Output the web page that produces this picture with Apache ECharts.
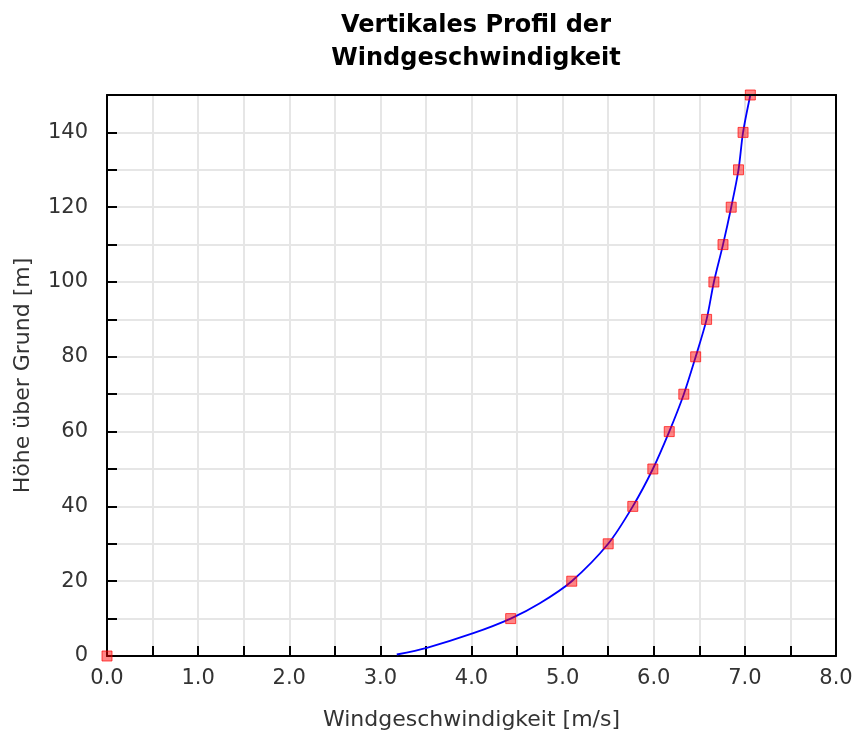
<!DOCTYPE html>
<html>
<head>
<meta charset="utf-8">
<script src="https://cdn.jsdelivr.net/npm/echarts@6/dist/echarts.min.js"></script>
<style>
  html, body { margin: 0; padding: 0; background: #fff; }
  #main { width: 856px; height: 740px; }
</style>
</head>
<body>
<div id="main"></div>
<script>
// Messpunkte (Höhe in m, Geschwindigkeit in m/s)
var heights = [0, 10, 20, 30, 40, 50, 60, 70, 80, 90, 100, 110, 120, 130, 140, 150]
var speeds = [0.0, 4.43, 5.10, 5.50, 5.77, 5.99, 6.17, 6.33, 6.46, 6.58, 6.66, 6.76, 6.85, 6.93, 6.98, 7.06]

// Profilkurve
var curveHeights = [0.4, 2.2, 6.1, 10, 14.1, 20, 30, 40, 50, 60, 70, 80, 90, 100, 110, 120, 130, 140, 150]
var curveSpeeds = [3.18, 3.51, 4.02, 4.43, 4.75, 5.10, 5.50, 5.77, 5.99, 6.17, 6.33, 6.46, 6.58, 6.66, 6.76, 6.85, 6.93, 6.98, 7.06]

var xTicks = { min: 0, max: 8, step: 0.5 }
var yTicks = { min: 0, max: 150, step: 10 }

var font = 'DejaVu Sans, Verdana, sans-serif'

var myChart = echarts.init(document.getElementById('main'))

var curveData = curveSpeeds.map(function (v, i) {
  return [v, curveHeights[i]]
})
var pointData = speeds.map(function (v, i) {
  return [v, heights[i]]
})

// Rahmen oben / rechts
var frameAxis = {
  show: true,
  z: 5,
  axisLine: { show: true, onZero: false, lineStyle: { color: '#000', width: 2 } },
  axisTick: { show: false },
  axisLabel: { show: false },
  splitLine: { show: false },
}

var option = {
  animation: false,
  backgroundColor: '#fff',
  title: {
    text: 'Vertikales Profil der\nWindgeschwindigkeit',
    left: 471,
    top: 4,
    textAlign: 'center',
    textStyle: {
      fontFamily: font,
      fontSize: 24,
      fontWeight: 'bold',
      color: '#000',
      lineHeight: 33,
    },
  },
  grid: {
    left: 107,
    right: 20,
    top: 95,
    bottom: 84,
  },
  xAxis: [
    {
      type: 'value',
      min: xTicks.min,
      max: xTicks.max,
      interval: xTicks.step,
      name: 'Windgeschwindigkeit [m/s]',
      nameLocation: 'middle',
      nameGap: 53,
      nameTextStyle: { fontFamily: font, fontSize: 22, color: '#333' },
      axisLine: { show: true, lineStyle: { color: '#000', width: 2 } },
      axisTick: { show: true, inside: true, length: 10, lineStyle: { color: '#000', width: 2 } },
      axisLabel: {
        margin: 12,
        fontFamily: font,
        fontSize: 21,
        color: '#333',
        formatter: function (v) {
          return Math.abs(v - Math.round(v)) < 1e-6 ? v.toFixed(1) : ''
        },
      },
      splitLine: { show: true, lineStyle: { color: '#e6e6e6', width: 2 } },
    },
    Object.assign({ type: 'value', position: 'top', min: xTicks.min, max: xTicks.max }, frameAxis),
  ],
  yAxis: [
    {
      type: 'value',
      min: yTicks.min,
      max: yTicks.max,
      interval: yTicks.step,
      name: 'Höhe über Grund [m]',
      nameLocation: 'middle',
      nameGap: 73,
      nameTextStyle: { fontFamily: font, fontSize: 22, color: '#333' },
      axisLine: { show: true, lineStyle: { color: '#000', width: 2 } },
      axisTick: { show: true, inside: true, length: 10, lineStyle: { color: '#000', width: 2 } },
      axisLabel: {
        margin: 19,
        fontFamily: font,
        fontSize: 21,
        color: '#333',
        formatter: function (v) {
          return v % 20 === 0 ? String(v) : ''
        },
      },
      splitLine: { show: true, lineStyle: { color: '#e6e6e6', width: 2 } },
    },
    Object.assign({ type: 'value', position: 'right', min: yTicks.min, max: yTicks.max }, frameAxis),
  ],
  series: [
    {
      name: 'Profil',
      type: 'line',
      data: curveData,
      smooth: 0.3,
      showSymbol: false,
      symbol: 'none',
      lineStyle: { color: '#0000ff', width: 1.8 },
      z: 2,
    },
    {
      name: 'Messwerte',
      type: 'scatter',
      data: pointData,
      symbol: 'rect',
      symbolSize: 10,
      itemStyle: {
        color: 'rgba(255,0,0,0.6)',
        borderColor: 'rgba(255,0,0,0.85)',
        borderWidth: 1,
      },
      z: 3,
    },
  ],
}

option && myChart.setOption(option)
window.addEventListener('resize', function () {
  myChart.resize()
})
</script>
</body>
</html>
